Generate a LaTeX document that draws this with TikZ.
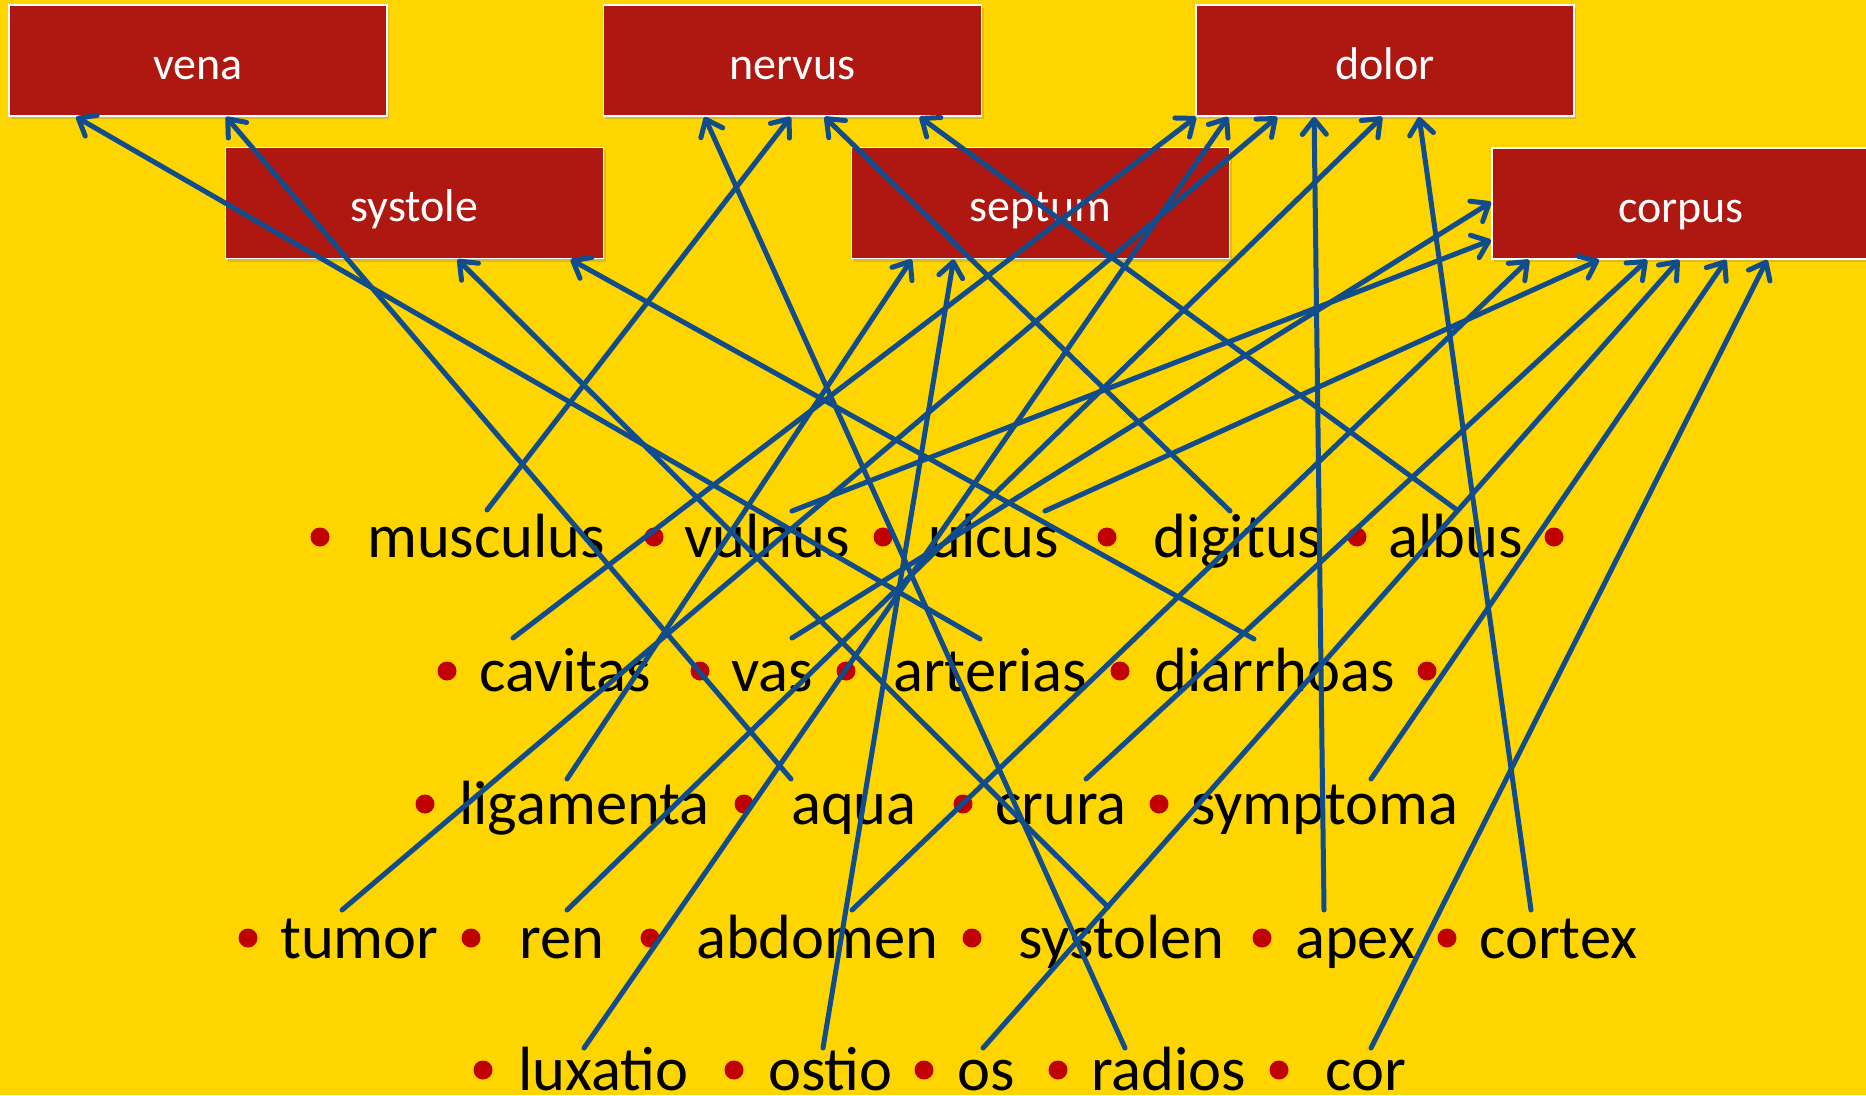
\documentclass[tikz,border=0pt]{standalone}
\usepackage{fontspec}
\setmainfont{Carlito}
\usetikzlibrary{arrows.meta,calc,shadows}
\definecolor{bg}{RGB}{255,213,0}
\definecolor{boxred}{RGB}{175,24,17}
\definecolor{lineblue}{RGB}{17,76,140}
\definecolor{dotred}{RGB}{192,0,0}
\begin{document}
\begin{tikzpicture}[x=1pt,y=-1pt,
  term/.style={draw=white, line width=1.8pt, fill=boxred, text=white,
    minimum width=378pt, minimum height=111pt, inner sep=0pt,
    text height=37pt, text depth=0pt, font=\fontsize{46}{55}\selectfont,
    drop shadow={opacity=0.3, shadow xshift=2pt, shadow yshift=-3pt}},
  word/.style={anchor=base west, inner sep=0pt, text=black,
    font=\fontsize{62.5}{75}\selectfont},
  conn/.style={draw=lineblue, line width=5pt, line cap=round, line join=round,
    -{Straight Barb[length=15pt,width=24pt,round]},
    preaction={draw=black, opacity=0.18, transform canvas={xshift=1.5pt,yshift=-2pt}}}
]
% background and bounding box
\fill[bg] (0,0) rectangle (1866,1095);
\useasboundingbox (0,0) rectangle (1866,1095);

% boxes
\node[term] (vena)    at (198,60.5)   {vena};
\node[term] (nervus)  at (792.5,60.5) {nervus};
\node[term] (dolor)   at (1385,60.5)  {dolor};
\node[term] (systole) at (414.5,203)  {systole};
\node[term] (septum)  at (1040.5,203) {septum};
\node[term] (corpus)  at (1681,203.5) {corpus};

% bullets
\foreach \x/\y in {320/537,654/537,883/537,1107/537,1357/537,1554/537,
                   447/671,700/671,846/671,1120/671,1427/671,
                   425/804,744/804,963/804,1159/804,
                   248/938,471/938,650/938,972/938,1262/938,1447/938,
                   483/1070,734/1070,924/1070,1058/1070,1279/1070}
  \fill[dotred] (\x,\y) circle[radius=9.5pt];

% words
\node[word] (musculus)  at (367,557)  {musculus};
\node[word] (vulnus)    at (684,557)  {vulnus};
\node[word] (ulcus)     at (928,557)  {ulcus};
\node[word] (digitus)   at (1153,557) {digitus};
\node[word] (albus)     at (1388,557) {albus};
\node[word] (cavitas)   at (479,691)  {cavitas};
\node[word] (vas)       at (731,691)  {vas};
\node[word] (arterias)  at (893,691)  {arterias};
\node[word] (diarrhoas) at (1154,691) {diarrhoas};
\node[word] (ligamenta) at (459,824)  {ligamenta};
\node[word] (aqua)      at (791,824)  {aqua};
\node[word] (crura)     at (995,824)  {crura};
\node[word] (symptoma)  at (1191,824) {symptoma};
\node[word] (tumor)     at (280,958)  {tumor};
\node[word] (ren)       at (519,958)  {ren};
\node[word] (abdomen)   at (696,958)  {abdomen};
\node[word] (systolen)  at (1018,958) {systolen};
\node[word] (apex)      at (1295,958) {apex};
\node[word] (cortex)    at (1479,958) {cortex};
\node[word] (luxatio)   at (518,1090) {luxatio};
\node[word] (ostio)     at (768,1090) {ostio};
\node[word] (os)        at (957,1090) {os};
\node[word] (radios)    at (1091,1090){radios};
\node[word] (cor)       at (1325,1090){cor};

% free ends of the connectors
\coordinate (musculus-s)  at (487,510);
\coordinate (vulnus-s)    at (792,511);
\coordinate (ulcus-s)     at (1045,511);
\coordinate (digitus-s)   at (1230,511);
\coordinate (albus-s)     at (1457,510);
\coordinate (cavitas-s)   at (513,638);
\coordinate (vas-s)       at (792,638);
\coordinate (arterias-s)  at (980,639);
\coordinate (diarrhoas-s) at (1254,639);
\coordinate (ligamenta-s) at (567,779);
\coordinate (aqua-s)      at (791,779);
\coordinate (crura-s)     at (1086,779);
\coordinate (symptoma-s)  at (1371,779);
\coordinate (tumor-s)     at (342,910);
\coordinate (ren-s)       at (567,910);
\coordinate (abdomen-s)   at (852,910);
\coordinate (systolen-s)  at (1108,907);
\coordinate (apex-s)      at (1324,910);
\coordinate (cortex-s)    at (1531,910);
\coordinate (luxatio-s)   at (584,1048);
\coordinate (ostio-s)     at (823,1048);
\coordinate (os-s)        at (983,1048);
\coordinate (radios-s)    at (1125,1048);
\coordinate (cor-s)       at (1371,1048);

% connectors
\draw[conn] (musculus-s)  -- ($(nervus.south west)+(188,0)$);
\draw[conn] (vulnus-s)    -- ($(corpus.north west)+(0,93)$);
\draw[conn] (ulcus-s)     -- ($(corpus.south west)+(108,0)$);
\draw[conn] (digitus-s)   -- ($(nervus.south west)+(222,0)$);
\draw[conn] (albus-s)     -- ($(nervus.south west)+(317,0)$);
\draw[conn] (cavitas-s)   -- ($(dolor.south west)+(1,0)$);
\draw[conn] (vas-s)       -- ($(corpus.north west)+(0,55)$);
\draw[conn] (arterias-s)  -- ($(vena.south west)+(68,0)$);
\draw[conn] (diarrhoas-s) -- ($(systole.south west)+(346,0)$);
\draw[conn] (ligamenta-s) -- ($(septum.south west)+(61,0)$);
\draw[conn] (aqua-s)      -- ($(vena.south west)+(218,0)$);
\draw[conn] (crura-s)     -- ($(corpus.south west)+(156,0)$);
\draw[conn] (symptoma-s)  -- ($(corpus.south west)+(235,0)$);
\draw[conn] (tumor-s)     -- ($(dolor.south west)+(82,0)$);
\draw[conn] (ren-s)       -- ($(dolor.south west)+(187,0)$);
\draw[conn] (abdomen-s)   -- ($(corpus.south west)+(38,0)$);
\draw[conn] (systolen-s)  -- ($(systole.south west)+(233,0)$);
\draw[conn] (apex-s)      -- ($(dolor.south west)+(119,0)$);
\draw[conn] (cortex-s)    -- ($(dolor.south west)+(224,0)$);
\draw[conn] (luxatio-s)   -- ($(dolor.south west)+(33,0)$);
\draw[conn] (ostio-s)     -- ($(septum.south west)+(103,0)$);
\draw[conn] (os-s)        -- ($(corpus.south west)+(188,0)$);
\draw[conn] (radios-s)    -- ($(nervus.south west)+(102,0)$);
\draw[conn] (cor-s)       -- ($(corpus.south west)+(276,0)$);
\end{tikzpicture}
\end{document}
